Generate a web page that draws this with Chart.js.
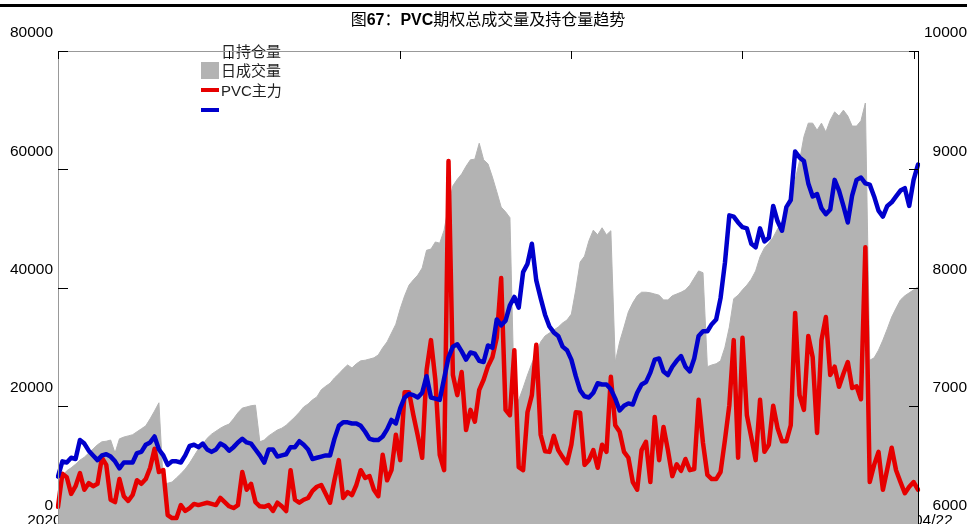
<!DOCTYPE html>
<html>
<head>
<meta charset="utf-8">
<title>PVC期权总成交量及持仓量趋势</title>
<script src="https://cdn.jsdelivr.net/npm/chart.js@4.4.1/dist/chart.umd.min.js"></script>
<style>
  html, body { margin: 0; padding: 0; background: #fff; overflow: hidden; }
  #wrap { width: 967px; height: 524px; }
</style>
</head>
<body>
<div id="wrap"><canvas id="chart" width="967" height="524"></canvas></div>
<script>
(function () {
  "use strict";

  // trading days from first listing to 2021/04/22 (weekends and exchange holidays skipped)
  var holidays = [
    "2020-10-01", "2020-10-02", "2020-10-05", "2020-10-06", "2020-10-07", "2020-10-08",
    "2021-01-01", "2021-02-11", "2021-02-12", "2021-02-15", "2021-02-16", "2021-02-17",
    "2021-04-05"
  ];
  var firstDay = "2020-07-03";
  var lastDay = "2021-04-22";

  // 日持仓量 (left axis)
  var openInterest = [
    7100, 8100, 9000, 9500, 10100, 10800, 11300, 12000, 12700, 13400,
    13900, 14000, 14200, 12000, 14400, 14700, 14900, 15100, 15600, 16100,
    16600, 17800, 19100, 20500, 6800, 6900, 7100, 7800, 8500, 9300,
    10300, 11500, 12700, 13500, 14500, 15200, 15700, 16200, 16600, 16900,
    17800, 18800, 19600, 19800, 20000, 20100, 13900, 14200, 14900, 15400,
    15900, 16200, 16700, 17400, 18100, 18900, 19800, 20300, 21000, 21500,
    22700, 23300, 23800, 24700, 25400, 26200, 26900, 26400, 27100, 27600,
    27700, 27900, 28100, 28600, 29800, 30800, 32300, 33800, 36400, 38600,
    40400, 41300, 42100, 43300, 46300, 46500, 47700, 47500, 49700, 53800,
    57200, 58300, 59200, 60500, 61600, 61700, 64400, 61600, 60900, 58700,
    56200, 53600, 52800, 51800, 21000, 21000, 23000, 25200, 27200, 28900,
    30800, 31800, 32300, 32800, 33300, 34000, 34500, 35500, 39600, 44300,
    45300, 47900, 49700, 48900, 50100, 48900, 49600, 27400, 30800, 33300,
    35900, 37400, 38600, 39200, 39200, 39100, 38900, 38700, 37900, 37900,
    38600, 38900, 39200, 39600, 40400, 41600, 42800, 42500, 26600, 26900,
    27100, 27600, 29900, 33300, 38100, 38700, 39600, 40400, 41400, 42800,
    45200, 46700, 47500, 48500, 49900, 51100, 52600, 54000, 58200, 61400,
    65500, 67800, 67800, 66600, 67800, 66300, 68300, 69700, 69000, 70000,
    69000, 67300, 67300, 68200, 71200, 27700, 28100, 29400, 31100, 33000,
    35000, 36500, 37900, 38600, 39100, 39600, 40100
  ];

  // 日成交量 (left axis)
  var volume = [
    2900, 8500, 7900, 5100, 6400, 8600, 5800, 6900, 6400, 6800,
    11200, 10000, 4100, 3700, 7600, 4700, 3900, 4900, 7400, 6800,
    7600, 9500, 12700, 8800, 9100, 1500, 1000, 1000, 3200, 2200,
    2700, 3400, 3200, 3400, 3600, 3400, 3200, 4400, 3700, 3000,
    2700, 3200, 8800, 5800, 6800, 3700, 3000, 2900, 3200, 2200,
    3600, 3000, 2200, 9100, 4100, 3600, 4100, 4400, 5600, 6300,
    6600, 5100, 3600, 7400, 10800, 4400, 5400, 4900, 6600, 9100,
    7800, 8100, 5800, 4700, 11700, 7400, 9100, 15100, 10800, 22300,
    22300, 18400, 14900, 11200, 26000, 31100, 24400, 11700, 9100, 61400,
    25200, 21800, 25700, 15900, 19300, 17300, 22700, 24400, 26700, 28200,
    31500, 41600, 19300, 18400, 29400, 9600, 9100, 18900, 21800, 30300,
    15100, 12300, 12200, 14900, 12500, 11300, 10300, 13400, 18900, 18800,
    10000, 10800, 12500, 9500, 13400, 12200, 24900, 16700, 15600, 12200,
    11200, 7100, 5800, 12500, 13900, 7100, 18100, 10800, 16400, 12500,
    8100, 10100, 9000, 11000, 9100, 9300, 21000, 13700, 8300, 7600,
    7600, 8800, 14200, 20100, 31100, 11200, 31500, 18400, 14700, 10800,
    21000, 12200, 13400, 20000, 16200, 14000, 14000, 16700, 35700, 21800,
    19300, 31800, 28200, 15400, 31100, 35000, 25200, 26600, 23200, 25400,
    27400, 23000, 23300, 21100, 46800, 7100, 10000, 12200, 5800, 9300,
    12900, 9100, 7100, 5200, 6300, 7100, 5800
  ];

  // PVC主力 (right axis)
  var pvcMain = [
    6400, 6530, 6520, 6560, 6550, 6710, 6680, 6620, 6580, 6540,
    6580, 6590, 6570, 6530, 6470, 6520, 6520, 6520, 6600, 6610,
    6670, 6690, 6740, 6630, 6580, 6500, 6530, 6530, 6520, 6580,
    6660, 6670, 6650, 6680, 6630, 6610, 6630, 6680, 6660, 6620,
    6650, 6690, 6720, 6690, 6680, 6630, 6580, 6520, 6630, 6630,
    6570, 6580, 6590, 6650, 6650, 6700, 6670, 6630, 6550, 6560,
    6570, 6580, 6580, 6720, 6830, 6860, 6860, 6850, 6850, 6830,
    6780, 6720, 6710, 6710, 6740, 6800, 6880, 6850, 6980, 7070,
    7100, 7090, 7070, 7110, 7250, 7070, 7060, 7050, 7230, 7410,
    7500, 7520, 7460, 7390, 7450, 7440, 7380, 7370, 7510, 7490,
    7730, 7680, 7720, 7850, 7920, 7830, 8130, 8200, 8370, 8060,
    7910, 7770, 7670, 7620, 7590, 7500, 7470, 7390, 7250, 7130,
    7080, 7070, 7110, 7190, 7180, 7180, 7140, 7060, 6960, 7000,
    7020, 7010, 7110, 7180, 7200, 7280, 7390, 7400, 7290, 7260,
    7330, 7380, 7420, 7330, 7290, 7400, 7590, 7630, 7630, 7690,
    7730, 7910, 8210, 8610, 8600, 8550, 8510, 8500, 8370, 8340,
    8500, 8390, 8420, 8690, 8560, 8480, 8680, 8740, 9150, 9100,
    9070, 8880, 8770, 8790, 8670, 8620, 8660, 8910, 8820, 8690,
    8550, 8780, 8910, 8930, 8880, 8870, 8770, 8650, 8600, 8690,
    8720, 8770, 8820, 8840, 8690, 8910, 9040
  ];

  var leftTicks = [0, 20000, 40000, 60000, 80000];
  var rightTicks = [6000, 7000, 8000, 9000, 10000];
  var topTickIndexes = [0, 39, 78, 117, 156, 195];
  var legendLabels = ["日持仓量", "日成交量", "PVC主力"];
  var titleParts = [
    ["图", false], ["67", true], ["：", false], ["PVC", true],
    ["期权总成交量及持仓量趋势", false]
  ];

  var FONT = '"Liberation Sans", "Noto Sans CJK SC", Arial, sans-serif';

  function tradingDays(from, to) {
    var out = [];
    var d = new Date(from + "T00:00:00Z");
    var end = new Date(to + "T00:00:00Z");
    while (d <= end) {
      var iso = d.toISOString().slice(0, 10);
      var wd = d.getUTCDay();
      if (wd !== 0 && wd !== 6 && holidays.indexOf(iso) < 0) {
        out.push(iso.replace(/-/g, "/"));
      }
      d.setUTCDate(d.getUTCDate() + 1);
    }
    return out;
  }

  var dates = tradingDays(firstDay, lastDay);

  function drawTitle(ctx, cx, cy) {
    var total = 0;
    titleParts.forEach(function (p) {
      ctx.font = (p[1] ? "bold " : "") + "16px " + FONT;
      total += ctx.measureText(p[0]).width;
    });
    var x = cx - total / 2;
    ctx.textAlign = "left";
    ctx.textBaseline = "middle";
    ctx.fillStyle = "#000";
    titleParts.forEach(function (p) {
      ctx.font = (p[1] ? "bold " : "") + "16px " + FONT;
      ctx.fillText(p[0], x, cy);
      x += ctx.measureText(p[0]).width;
    });
  }

  function drawLegend(ctx) {
    // swatches sit one row below their text, as in the source image
    ctx.fillStyle = "#b3b3b3";
    ctx.fillRect(201, 62, 18, 17);
    ctx.fillStyle = "#e60000";
    ctx.fillRect(201, 88, 18, 4);
    ctx.fillStyle = "#0000cc";
    ctx.fillRect(201, 108, 18, 4);

    ctx.font = "15px " + FONT;
    ctx.textAlign = "left";
    ctx.textBaseline = "middle";
    ctx.fillStyle = "#222";
    var rows = [53, 72, 92];
    legendLabels.forEach(function (t, i) {
      ctx.fillText(t, 221, rows[i]);
    });
  }

  function hLine(ctx, x1, x2, y, color) {
    ctx.strokeStyle = color;
    ctx.lineWidth = 1;
    ctx.beginPath();
    ctx.moveTo(x1, Math.round(y) + 0.5);
    ctx.lineTo(x2, Math.round(y) + 0.5);
    ctx.stroke();
  }

  function vLine(ctx, x, y1, y2, color) {
    ctx.strokeStyle = color;
    ctx.lineWidth = 1;
    ctx.beginPath();
    ctx.moveTo(Math.round(x) + 0.5, y1);
    ctx.lineTo(Math.round(x) + 0.5, y2);
    ctx.stroke();
  }

  var decor = {
    id: "decor",
    beforeDraw: function (chart) {
      var ctx = chart.ctx;
      var area = chart.chartArea;
      ctx.save();
      ctx.fillStyle = "#fff";
      ctx.fillRect(0, 0, chart.width, chart.height);
      ctx.fillStyle = "#000";
      ctx.fillRect(0, 4, chart.width, 3);
      drawTitle(ctx, (area.left + area.right) / 2, 21);
      ctx.restore();
    },
    beforeDatasetsDraw: function (chart) {
      // date labels sit behind the area fill, only their ends show
      var ctx = chart.ctx;
      var xs = chart.scales.x;
      ctx.save();
      ctx.font = "15.5px " + FONT;
      ctx.textAlign = "center";
      ctx.textBaseline = "middle";
      ctx.fillStyle = "#000";
      ctx.fillText(dates[0], xs.getPixelForValue(0) + 8, 521);
      ctx.fillText(dates[dates.length - 1], xs.getPixelForValue(dates.length - 1) - 4, 521);
      ctx.restore();
    },
    afterDatasetsDraw: function (chart) {
      var ctx = chart.ctx;
      var area = chart.chartArea;
      var xs = chart.scales.x;
      var yl = chart.scales.y;
      var yr = chart.scales.y1;
      ctx.save();
      drawLegend(ctx);
      hLine(ctx, area.left, area.right, area.top, "#999");
      vLine(ctx, area.left, area.top, area.bottom, "#999");
      vLine(ctx, area.right, area.top, area.bottom, "#000");
      leftTicks.forEach(function (v) {
        hLine(ctx, area.left, area.left + 10, yl.getPixelForValue(v), "#000");
      });
      rightTicks.forEach(function (v) {
        hLine(ctx, area.right - 9, area.right, yr.getPixelForValue(v), "#000");
      });
      topTickIndexes.forEach(function (i) {
        vLine(ctx, xs.getPixelForValue(i), area.top, area.top + 8, "#000");
      });
      ctx.restore();
    }
  };

  function plainLabel(v) {
    return String(v);
  }

  // fixed axis widths, no extra label padding above/below the plot
  function fitLeft(s) {
    s.width = 58;
    s.paddingTop = 0;
    s.paddingBottom = 0;
  }

  function fitRight(s) {
    s.width = 49;
    s.paddingTop = 0;
    s.paddingBottom = 0;
  }

  new Chart(document.getElementById("chart"), {
    type: "line",
    data: {
      labels: dates,
      datasets: [
        {
          label: "PVC主力",
          data: pvcMain,
          yAxisID: "y1",
          borderColor: "#0000cc",
          borderWidth: 4.5,
          pointRadius: 0,
          tension: 0,
          borderJoinStyle: "round",
          borderCapStyle: "round",
          fill: false,
          order: 1,
        },
        {
          label: "日成交量",
          data: volume,
          yAxisID: "y",
          borderColor: "#e60000",
          borderWidth: 4.5,
          pointRadius: 0,
          tension: 0,
          borderJoinStyle: "round",
          borderCapStyle: "round",
          fill: false,
          order: 2,
        },
        {
          label: "日持仓量",
          data: openInterest,
          yAxisID: "y",
          borderColor: "#b3b3b3",
          backgroundColor: "#b3b3b3",
          borderWidth: 1,
          pointRadius: 0,
          tension: 0,
          fill: "origin",
          order: 3,
        },
      ],
    },
    options: {
      responsive: false,
      animation: false,
      devicePixelRatio: 1,
      layout: { padding: { top: 51, left: 0, right: 0, bottom: 0 } },
      plugins: {
        legend: { display: false },
        title: { display: false },
        tooltip: { enabled: false },
      },
      scales: {
        x: { type: "category", display: false },
        y: {
          position: "left",
          min: 0,
          max: 80000,
          afterFit: fitLeft,
          grid: { display: false, drawTicks: false },
          border: { display: false },
          ticks: {
            stepSize: 20000,
            padding: 5,
            labelOffset: -18,
            color: "#000",
            font: { family: FONT, size: 15.5 },
            callback: plainLabel,
          },
        },
        y1: {
          position: "right",
          min: 6000,
          max: 10000,
          afterFit: fitRight,
          grid: { display: false, drawTicks: false },
          border: { display: false },
          ticks: {
            stepSize: 1000,
            padding: 4,
            labelOffset: -18,
            crossAlign: "far",
            color: "#000",
            font: { family: FONT, size: 15.5 },
            callback: plainLabel,
          },
        },
      },
    },
    plugins: [decor],
  });
})();
</script>
</body>
</html>
